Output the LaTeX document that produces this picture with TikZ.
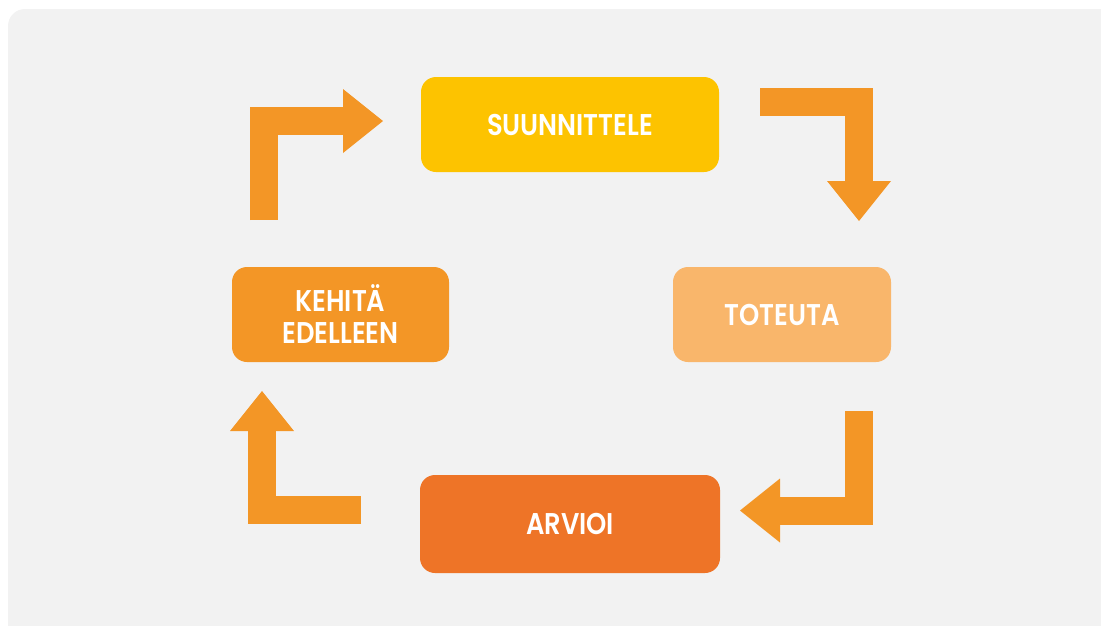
\documentclass[tikz,border=0pt]{standalone}
\usepackage{fontspec}
\setmainfont{Poppins}[FakeStretch=0.86, BoldFont={Poppins SemiBold}]
\usepackage{xcolor}
\usetikzlibrary{arrows.meta, positioning}

\definecolor{bggray}{HTML}{F2F2F2}
\definecolor{planyellow}{HTML}{FDC300}
\definecolor{dolight}{HTML}{F9B66B}
\definecolor{devorange}{HTML}{F39626}
\definecolor{evaldark}{HTML}{EE7427}

\begin{document}
\begin{tikzpicture}[x=1pt, y=-1pt,
    phase/.style={rectangle, rounded corners=15pt, minimum height=95pt, inner sep=0pt,
        text=white, align=center, font=\bfseries\fontsize{30}{32}\selectfont},
    cyclearrow/.style={draw=devorange, line width=28pt, line join=miter,
        -{Triangle[length=40pt, width=64pt, line width=0pt]}}]
    \useasboundingbox (0,0) rectangle (1101,625);
    \clip (0,0) rectangle (1101,625);
    \fill[bggray, rounded corners=17pt] (8,9) rectangle (1140,660);

    % the four phases
    \node[phase, fill=planyellow, minimum width=298pt] (plan) at (570,124.5) {SUUNNITTELE};
    \node[phase, fill=dolight, minimum width=218pt] (do) at (782,314.5) {TOTEUTA};
    \node[phase, fill=evaldark, minimum width=300pt, minimum height=98pt] (eval) at (570,524) {ARVIOI};
    \node[phase, fill=devorange, minimum width=217pt] (dev) at (340.5,314.5) {KEHITÄ\\EDELLEEN};

    % arrow ends
    \coordinate (devout) at (264,220);
    \coordinate (planin) at (383,121);
    \coordinate (planout) at (760,102);
    \coordinate (doin) at (859,221);
    \coordinate (doout) at (859,411);
    \coordinate (evalin) at (740,510.5);
    \coordinate (evalout) at (361,510);
    \coordinate (devin) at (262,391);

    \draw[cyclearrow] (devout) |- (planin);
    \draw[cyclearrow] (planout) -| (doin);
    \draw[cyclearrow] (doout) |- (evalin);
    \draw[cyclearrow] (evalout) -| (devin);
\end{tikzpicture}
\end{document}
